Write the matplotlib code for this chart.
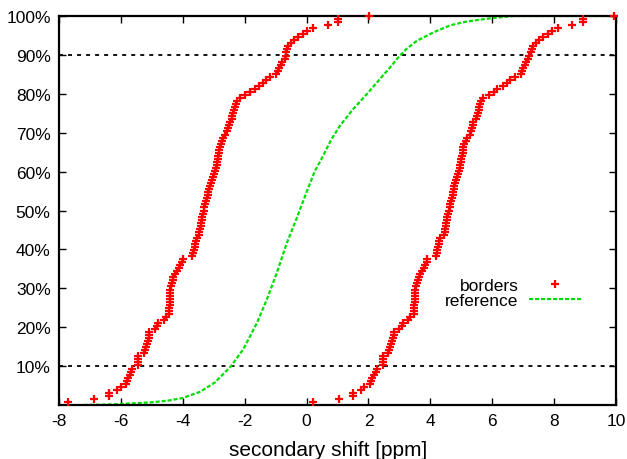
import matplotlib
matplotlib.use("Agg")
import matplotlib.pyplot as plt

plt.rcParams['font.family'] = ['Liberation Sans', 'DejaVu Sans']
plt.rcParams['axes.unicode_minus'] = False

# borders: sorted shift values (lower and upper border), plotted as cumulative fraction
lower_border = [
    -7.70, -6.86, -6.37, -6.37, -6.14, -6.01, -5.83, -5.81, -5.78, -5.70,
    -5.67, -5.63, -5.44, -5.44, -5.44, -5.44, -5.24, -5.21, -5.18, -5.15,
    -5.13, -5.10, -5.09, -5.08, -4.90, -4.83, -4.79, -4.61, -4.55, -4.43,
    -4.43, -4.43, -4.42, -4.42, -4.42, -4.42, -4.41, -4.41, -4.38, -4.36,
    -4.33, -4.30, -4.26, -4.20, -4.12, -4.09, -4.02, -4.00, -3.71, -3.68,
    -3.65, -3.62, -3.59, -3.57, -3.55, -3.48, -3.46, -3.44, -3.42, -3.40,
    -3.39, -3.37, -3.35, -3.33, -3.31, -3.28, -3.25, -3.23, -3.20, -3.17,
    -3.14, -3.11, -3.09, -3.07, -3.02, -2.98, -2.95, -2.93, -2.91, -2.89,
    -2.87, -2.85, -2.83, -2.82, -2.80, -2.78, -2.74, -2.71, -2.62, -2.57,
    -2.53, -2.50, -2.47, -2.42, -2.40, -2.37, -2.34, -2.31, -2.29, -2.25,
    -2.15, -1.98, -1.82, -1.68, -1.53, -1.42, -1.32, -1.18, -0.98, -0.93,
    -0.88, -0.84, -0.80, -0.71, -0.68, -0.65, -0.62, -0.59, -0.50, -0.41,
    -0.27, -0.10, 0.01, 0.22, 0.68, 1.03, 1.03, 2.03,
]
upper_border = [
    0.20, 1.05, 1.51, 1.51, 1.76, 1.87, 2.05, 2.07, 2.10, 2.18,
    2.23, 2.29, 2.46, 2.46, 2.47, 2.48, 2.64, 2.68, 2.71, 2.74,
    2.77, 2.79, 2.81, 2.83, 3.00, 3.07, 3.13, 3.29, 3.34, 3.47,
    3.47, 3.48, 3.48, 3.49, 3.49, 3.50, 3.50, 3.51, 3.54, 3.56,
    3.60, 3.63, 3.67, 3.72, 3.80, 3.83, 3.88, 3.90, 4.18, 4.20,
    4.22, 4.25, 4.27, 4.29, 4.31, 4.44, 4.46, 4.48, 4.50, 4.52,
    4.53, 4.55, 4.57, 4.59, 4.62, 4.65, 4.67, 4.69, 4.72, 4.74,
    4.76, 4.78, 4.80, 4.83, 4.87, 4.91, 4.93, 4.95, 4.97, 4.99,
    5.00, 5.02, 5.04, 5.05, 5.07, 5.10, 5.14, 5.19, 5.28, 5.33,
    5.35, 5.37, 5.39, 5.48, 5.50, 5.53, 5.56, 5.58, 5.60, 5.63,
    5.71, 5.90, 6.05, 6.17, 6.35, 6.48, 6.58, 6.72, 6.93, 6.97,
    7.01, 7.05, 7.10, 7.16, 7.20, 7.24, 7.28, 7.32, 7.40, 7.50,
    7.65, 7.81, 7.92, 8.11, 8.57, 8.92, 8.92, 9.92,
]

# reference cumulative distribution
ref_x = [-7.2, -6.5, -5.9, -5.0, -4.5, -4.0, -3.44, -2.96, -2.44, -2.04,
         -1.61, -1.29, -0.96, -0.64, -0.32, 0.00, 0.27, 0.44, 0.81, 1.08,
         1.51, 2.00, 2.37, 2.70, 2.97, 3.24, 3.56, 4.10, 4.64, 5.18,
         6.04, 6.7, 10.0]
ref_y = [0.0, 0.1, 0.3, 0.7, 1.1, 1.8, 3.4, 5.8, 10.0, 14.4,
         21.0, 27.0, 34.0, 41.6, 48.0, 54.7, 60.2, 62.6, 68.4, 71.8,
         76.1, 80.4, 83.8, 86.8, 89.4, 91.6, 93.6, 95.8, 97.6, 98.6,
         99.5, 100.0, 100.0]

x_ticks = [-8, -6, -4, -2, 0, 2, 4, 6, 8, 10]
y_ticks = [10, 20, 30, 40, 50, 60, 70, 80, 90, 100]
y_tick_labels = ["10%", "20%", "30%", "40%", "50%", "60%", "70%", "80%", "90%", "100%"]
guide_levels = [10, 90]

fig = plt.figure(figsize=(6.27, 4.60), dpi=100)
ax = fig.add_axes([59/627, 1 - 406/460, 557/627, 389/460])

for lvl in guide_levels:
    ax.axhline(lvl, color='black', lw=1.3, dashes=(2.2, 2.8), zorder=1)

n_low = len(lower_border)
low_y = [100.0 * (i + 1) / n_low for i in range(n_low)]
n_up = len(upper_border)
up_y = [100.0 * (i + 1) / n_up for i in range(n_up)]

mk = dict(marker='+', linestyle='none', color='#ff0000', markersize=5.5,
          markeredgewidth=1.6, clip_on=False, zorder=3)
ax.plot(lower_border, low_y, label='borders', **mk)
ax.plot(upper_border, up_y, **mk)

ax.plot(ref_x, ref_y, color='#00e000', lw=1.6, dashes=(1.8, 0.9),
        label='reference', zorder=2)

ax.set_xlim(-8, 10)
ax.set_ylim(0, 100)
ax.set_xticks(x_ticks)
ax.set_yticks(y_ticks)
ax.set_yticklabels(y_tick_labels)
ax.tick_params(direction='in', length=5, width=1.0, top=True, right=True,
               labelsize=12.5, pad=6, colors='black')
for sp in ax.spines.values():
    sp.set_linewidth(1.6)

ax.set_xlabel('secondary shift [ppm]', fontsize=15)
ax.xaxis.set_label_coords((328 - 59) / 557, -(441 - 406) / 389)

leg = ax.legend(loc='center right', bbox_to_anchor=(0.937, 0.289),
                frameon=False, markerfirst=False, fontsize=12.5,
                handlelength=3.0, handletextpad=0.6, labelspacing=0.0,
                borderpad=0, borderaxespad=0)

fig.savefig('out.png', dpi=100)
